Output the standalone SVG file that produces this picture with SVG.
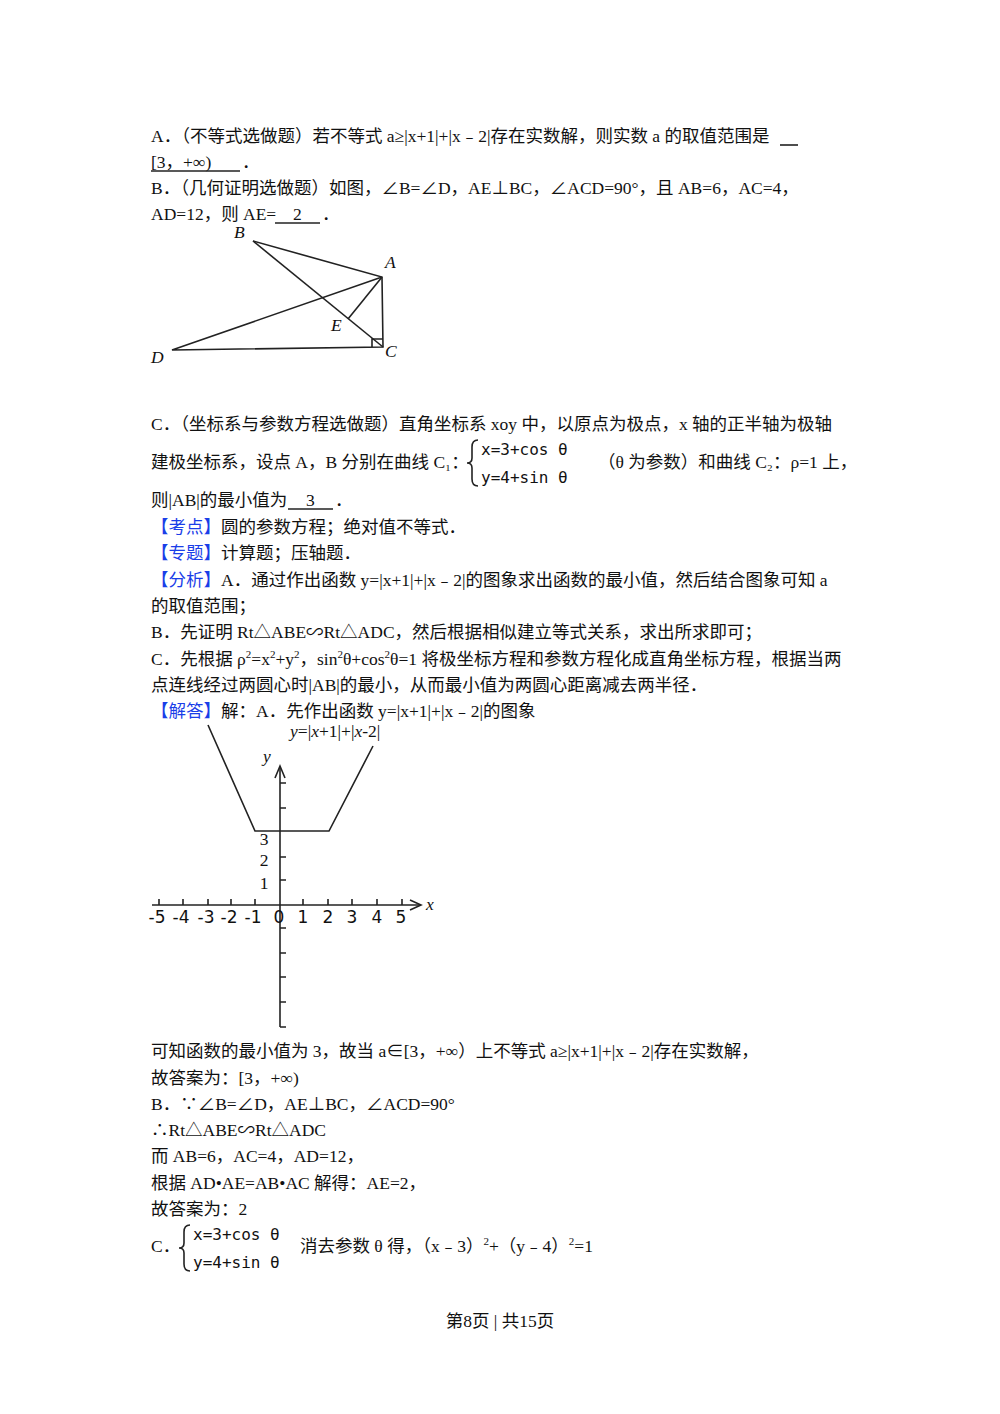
<svg xmlns="http://www.w3.org/2000/svg" width="1000" height="1414" viewBox="0 0 1000 1414">
<style>
text{font-family:"Liberation Serif","Noto Sans CJK SC",serif;font-size:17.5px;fill:#111}
.b{fill:#1a3ee8}
.m{font-family:"DejaVu Sans Mono","Noto Sans CJK SC",monospace;font-size:16px}
.i{font-style:italic}
.g{font-family:"DejaVu Sans","Noto Sans CJK SC",sans-serif;font-size:17px;text-anchor:middle}
line,polyline,path{stroke:#222;stroke-width:1.6;fill:none}
</style>
<rect width="1000" height="1414" fill="#fff"/>
<g id="text">
<text x="151" y="142">A．（不等式选做题）若不等式 a≥|x+1|+|x﹣2|存在实数解，则实数 a 的取值范围是</text>
<line x1="780" y1="145" x2="798" y2="145" stroke-width="1"/>
<text x="151" y="168">[3，+∞)</text><line x1="151" y1="171" x2="240" y2="171" stroke-width="1"/><text x="242" y="168">．</text>
<text x="151" y="194">B．（几何证明选做题）如图，∠B=∠D，AE⊥BC，∠ACD=90°，且 AB=6，AC=4，</text>
<text x="151" y="220">AD=12，则 AE=</text><text x="293" y="220">2</text><line x1="275" y1="223" x2="320" y2="223" stroke-width="1"/><text x="322" y="220">．</text>
<text x="151" y="430">C．（坐标系与参数方程选做题）直角坐标系 xoy 中，以原点为极点，x 轴的正半轴为极轴</text>
<text x="151" y="468">建极坐标系，设点 A，B 分别在曲线 C₁：</text>
<path d="M478,440 Q472,440 472,447 L472,458 Q472,463 467,463 Q472,463 472,468 L472,479 Q472,486 478,486" stroke-width="1.2"/>
<text class="m" x="481" y="455">x=3+cos θ</text>
<text class="m" x="481" y="483">y=4+sin θ</text>
<text x="598" y="468">（θ 为参数）和曲线 C₂：ρ=1 上，</text>
<text x="151" y="506">则|AB|的最小值为</text><text x="306" y="506">3</text><line x1="288" y1="509" x2="333" y2="509" stroke-width="1"/><text x="335" y="506">．</text>
<text x="151" y="533"><tspan class="b">【考点】</tspan>圆的参数方程；绝对值不等式．</text>
<text x="151" y="559"><tspan class="b">【专题】</tspan>计算题；压轴题．</text>
<text x="151" y="586"><tspan class="b">【分析】</tspan>A．通过作出函数 y=|x+1|+|x﹣2|的图象求出函数的最小值，然后结合图象可知 a</text>
<text x="151" y="612">的取值范围；</text>
<text x="151" y="638">B．先证明 Rt△ABE∽Rt△ADC，然后根据相似建立等式关系，求出所求即可；</text>
<text x="151" y="665">C．先根据 ρ<tspan font-size="11" dy="-7">2</tspan><tspan dy="7">=x</tspan><tspan font-size="11" dy="-7">2</tspan><tspan dy="7">+y</tspan><tspan font-size="11" dy="-7">2</tspan><tspan dy="7">，sin</tspan><tspan font-size="11" dy="-7">2</tspan><tspan dy="7">θ+cos</tspan><tspan font-size="11" dy="-7">2</tspan><tspan dy="7">θ=1 将极坐标方程和参数方程化成直角坐标方程，根据当两</tspan></text>
<text x="151" y="691">点连线经过两圆心时|AB|的最小，从而最小值为两圆心距离减去两半径．</text>
<text x="151" y="717"><tspan class="b">【解答】</tspan>解：A．先作出函数 y=|x+1|+|x﹣2|的图象</text>
<text x="151" y="1057">可知函数的最小值为 3，故当 a∈[3，+∞）上不等式 a≥|x+1|+|x﹣2|存在实数解，</text>
<text x="151" y="1084">故答案为：[3，+∞)</text>
<text x="151" y="1110">B．∵∠B=∠D，AE⊥BC，∠ACD=90°</text>
<text x="151" y="1136">∴Rt△ABE∽Rt△ADC</text>
<text x="151" y="1162">而 AB=6，AC=4，AD=12，</text>
<text x="151" y="1189">根据 AD•AE=AB•AC 解得：AE=2，</text>
<text x="151" y="1215">故答案为：2</text>
<text x="151" y="1252">C．</text>
<path d="M190,1225 Q184,1225 184,1232 L184,1243 Q184,1248 179,1248 Q184,1248 184,1253 L184,1264 Q184,1271 190,1271" stroke-width="1.2"/>
<text class="m" x="193" y="1240">x=3+cos θ</text>
<text class="m" x="193" y="1268">y=4+sin θ</text>
<text x="300" y="1252">消去参数 θ 得，（x﹣3）<tspan font-size="11" dy="-7">2</tspan><tspan dy="7">+（y﹣4）</tspan><tspan font-size="11" dy="-7">2</tspan><tspan dy="7">=1</tspan></text>
<text x="500" y="1327" text-anchor="middle" font-size="16">第8页 | 共15页</text>
</g>
<g id="geometry">
<polyline points="253,241 382,277 383,347 172,350 382,277"/>
<line x1="253" y1="241" x2="383" y2="347"/>
<line x1="382" y1="277" x2="348" y2="319"/>
<polyline points="372,347 372,339 383,339" stroke-width="1.8"/>
<text class="i" x="234" y="238" font-size="16">B</text>
<text class="i" x="385" y="268" font-size="16">A</text>
<text class="i" x="331" y="331" font-size="16">E</text>
<text class="i" x="385" y="357" font-size="16">C</text>
<text class="i" x="151" y="363" font-size="16">D</text>
</g>
<g id="graph">
<line x1="152" y1="905" x2="420" y2="905"/>
<path d="M410,900 L421,905 L410,910"/>
<line x1="280" y1="1027" x2="280" y2="767"/>
<path d="M275,778 L280,766 L285,778"/>
<path d="M159,905v-6M183,905v-6M208,905v-6M231,905v-6M255,905v-6M303,905v-6M328,905v-6M352,905v-6M377,905v-6M402,905v-6" stroke-width="1"/>
<path d="M280,880h6M280,857h6M280,808h6M280,783h6M280,928h6M280,953h6M280,977h6M280,1002h6M280,1027h6" stroke-width="1"/>
<polyline points="208,725 255,831 329,831 373,746"/>
<text class="g" x="157" y="923">-5</text>
<text class="g" x="181" y="923">-4</text>
<text class="g" x="206" y="923">-3</text>
<text class="g" x="229" y="923">-2</text>
<text class="g" x="253" y="923">-1</text>
<text class="g" x="279" y="923">0</text>
<text class="g" x="303" y="923">1</text>
<text class="g" x="328" y="923">2</text>
<text class="g" x="352" y="923">3</text>
<text class="g" x="377" y="923">4</text>
<text class="g" x="401" y="923">5</text>
<text x="264" y="845" text-anchor="middle">3</text>
<text x="264" y="866" text-anchor="middle">2</text>
<text x="264" y="889" text-anchor="middle">1</text>
<text class="i" x="426" y="910">x</text>
<text class="i" x="263" y="762">y</text>
<text x="290" y="737"><tspan class="i">y</tspan>=|<tspan class="i">x</tspan>+1|+|<tspan class="i">x</tspan>-2|</text>
</g>
</svg>
